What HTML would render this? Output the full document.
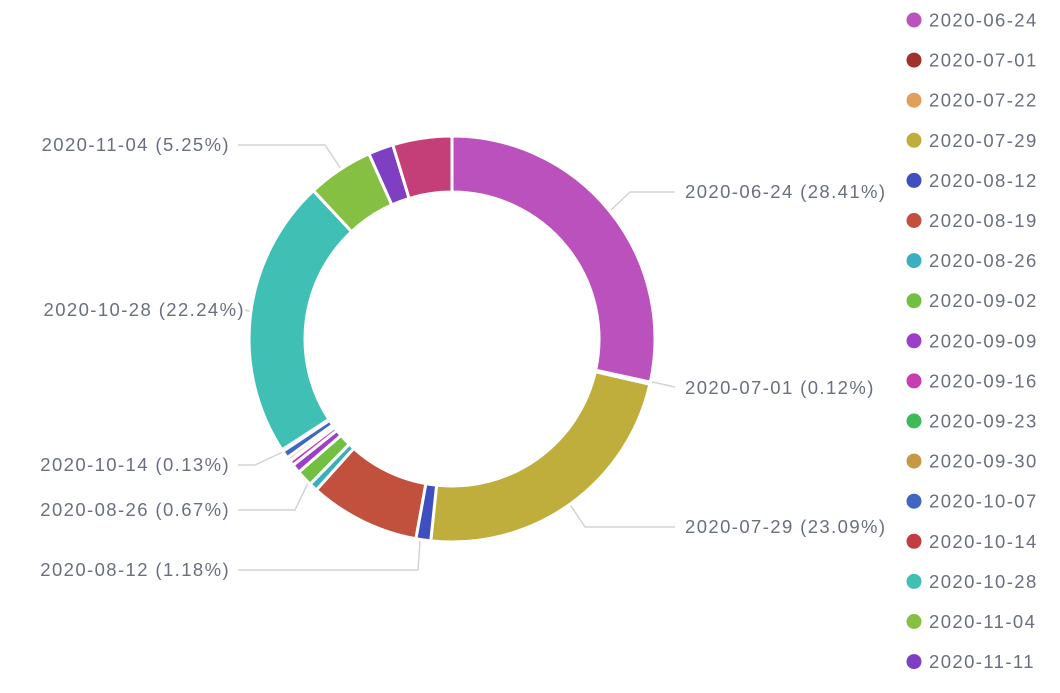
<!DOCTYPE html><html><head><style>body{margin:0;background:#fff;width:1060px;height:688px;overflow:hidden;font-family:"Liberation Sans",sans-serif}</style></head><body>
<svg id="s" width="1060" height="688" xmlns="http://www.w3.org/2000/svg" font-family="Liberation Sans, sans-serif" font-size="18.5" letter-spacing="1.4" fill="#69707d">
<g stroke="#d3d3d3" stroke-width="1.5" fill="none">
<polyline points="590,230 630,192 675,192"/>
<polyline points="648,381 675,387"/>
<polyline points="555,482 585,527 675,527"/>
<polyline points="420,541 418,570 238,570"/>
<polyline points="318,462 295,510 238,510"/>
<polyline points="285,451 255,465 238,465"/>
<polyline points="278,318 245,310"/>
<polyline points="355,190 325,145 238,145"/>
</g>
<g id="ring"></g>
<g fill="#69707d">
<text x="685" y="198">2020-06-24 (28.41%)</text>
<text x="685" y="394">2020-07-01 (0.12%)</text>
<text x="685" y="533">2020-07-29 (23.09%)</text>
<text x="230" y="576" text-anchor="end">2020-08-12 (1.18%)</text>
<text x="230" y="516" text-anchor="end">2020-08-26 (0.67%)</text>
<text x="230" y="471" text-anchor="end">2020-10-14 (0.13%)</text>
<text x="245" y="316" text-anchor="end">2020-10-28 (22.24%)</text>
<text x="230" y="151" text-anchor="end">2020-11-04 (5.25%)</text>
</g>
<g id="leg"></g>
</svg>
<script>
var cx=452,cy=339,R=203,r=147;
var sl=[[28.41,"#bb51bd"],[0.12,"#a0322d"],[0.05,"#e0a05c"],[23.09,"#bfae3c"],[1.18,"#3f4fc2"],[8.8,"#c1503c"],[0.67,"#3aafbd"],[1.3,"#72c041"],[0.7,"#9b3fca"],[0.4,"#c53fb2"],[0.05,"#3dbb59"],[0.3,"#e0b87a"],[0.6,"#3f66c2"],[0.13,"#c23c42"],[22.24,"#40bfb5"],[5.25,"#85c042"],[2.0,"#7e3fc2"],[0,"#c43f78"]];
var sum=0;sl.forEach(function(s){sum+=s[0]});sl[sl.length-1][0]=100-sum;
var a=0,h="";
function pt(rad,ang){var t=ang/100*2*Math.PI;return (cx+rad*Math.sin(t)).toFixed(2)+","+(cy-rad*Math.cos(t)).toFixed(2)}
sl.forEach(function(s){var b=a+s[0];var lg=s[0]>50?1:0;
h+='<path d="M'+pt(R,a)+' A'+R+','+R+' 0 '+lg+' 1 '+pt(R,b)+' L'+pt(r,b)+' A'+r+','+r+' 0 '+lg+' 0 '+pt(r,a)+' Z" fill="'+s[1]+'" stroke="#fff" stroke-width="3"/>';a=b;});
document.getElementById("ring").innerHTML=h;
var L=[["2020-06-24","#bb51bd"],["2020-07-01","#a0322d"],["2020-07-22","#e0a05c"],["2020-07-29","#bfae3c"],["2020-08-12","#3f4fc2"],["2020-08-19","#c1503c"],["2020-08-26","#3aafbd"],["2020-09-02","#72c041"],["2020-09-09","#9b3fca"],["2020-09-16","#c53fb2"],["2020-09-23","#3dbb59"],["2020-09-30","#c69a45"],["2020-10-07","#3f66c2"],["2020-10-14","#c23c42"],["2020-10-28","#40bfb5"],["2020-11-04","#85c042"],["2020-11-11","#7e3fc2"]];
var g="";L.forEach(function(l,i){var y=20+i*40.1;g+='<circle cx="914" cy="'+y+'" r="7.5" fill="'+l[1]+'"/><text x="929" y="'+(y+6.5)+'">'+l[0]+'</text>';});
document.getElementById("leg").innerHTML=g;
</script>
</body></html>
